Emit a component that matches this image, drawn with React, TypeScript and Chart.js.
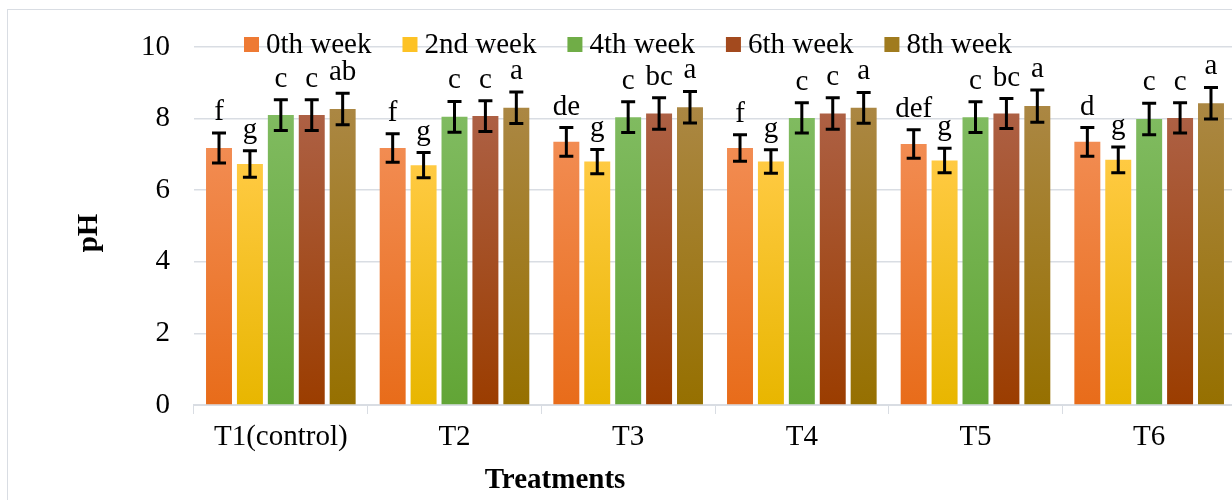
import React, { useEffect, useRef } from "react";
import { Chart, registerables } from "chart.js";
Chart.register(...registerables);

const categories = ["T1(control)", "T2", "T3", "T4", "T5", "T6"];
const seriesNames = ["0th week", "2nd week", "4th week", "6th week", "8th week"];
const week0 = [7.18, 7.18, 7.35, 7.18, 7.29, 7.35];
const week2 = [6.73, 6.7, 6.8, 6.8, 6.83, 6.85];
const week4 = [8.1, 8.05, 8.04, 8.02, 8.04, 7.99];
const week6 = [8.1, 8.07, 8.14, 8.14, 8.14, 8.02];
const week8 = [8.27, 8.3, 8.32, 8.3, 8.35, 8.43];
const err0 = [0.42, 0.4, 0.4, 0.37, 0.4, 0.4];
const err2 = [0.37, 0.35, 0.34, 0.33, 0.34, 0.36];
const err4 = [0.43, 0.43, 0.43, 0.42, 0.43, 0.44];
const err6 = [0.43, 0.43, 0.44, 0.44, 0.42, 0.42];
const err8 = [0.44, 0.44, 0.44, 0.43, 0.45, 0.44];
const letters0 = ["f", "f", "de", "f", "def", "d"];
const letters2 = ["g", "g", "g", "g", "g", "g"];
const letters4 = ["c", "c", "c", "c", "c", "c"];
const letters6 = ["c", "c", "bc", "c", "bc", "c"];
const letters8 = ["ab", "a", "a", "a", "a", "a"];
const yMin = 0;
const yMax = 10;
const yStep = 2;
const yTitle = "pH";
const xTitle = "Treatments";

const values = [week0, week2, week4, week6, week8];
const errors = [err0, err2, err4, err6, err8];
const letters = [letters0, letters2, letters4, letters6, letters8];
const topColors = ["#F28C52", "#FFCA42", "#80BB60", "#AD6044", "#AB8743"];
const bottomColors = ["#E86C1A", "#E8B600", "#62A536", "#9B3D00", "#967000"];
const legendColors = ["#EE7A34", "#FDC225", "#70AD47", "#A34A1E", "#A07B1E"];

const FONT = "'Liberation Serif', 'Times New Roman', serif";
const FS = 29;

const overlayPlugin = {
  id: "overlay",
  afterDatasetsDraw(chart: any) {
    const ctx = chart.ctx;
    const y = chart.scales.y;
    ctx.save();
    values.forEach((series, di) => {
      const meta = chart.getDatasetMeta(di);
      series.forEach((v, i) => {
        const el = meta.data[i];
        const x = el.x;
        const e = errors[di][i];
        const yt = y.getPixelForValue(v + e);
        const yb = y.getPixelForValue(v - e);
        ctx.strokeStyle = "#000";
        ctx.lineWidth = 3;
        ctx.lineCap = "butt";
        ctx.beginPath();
        ctx.moveTo(x, yt);
        ctx.lineTo(x, yb);
        ctx.moveTo(x - 7, yt);
        ctx.lineTo(x + 7, yt);
        ctx.moveTo(x - 7, yb);
        ctx.lineTo(x + 7, yb);
        ctx.stroke();
        ctx.fillStyle = "#000";
        ctx.font = `${FS}px ${FONT}`;
        ctx.textAlign = "center";
        ctx.textBaseline = "alphabetic";
        ctx.fillText(letters[di][i], x, yt - 13);
      });
    });
    ctx.restore();
  },
  afterDraw(chart: any) {
    const ctx = chart.ctx;
    ctx.save();
    // legend
    ctx.font = `${FS}px ${FONT}`;
    ctx.textBaseline = "alphabetic";
    ctx.textAlign = "left";
    let lx = 244;
    seriesNames.forEach((name, i) => {
      ctx.fillStyle = legendColors[i];
      ctx.fillRect(lx, 37, 15, 15);
      ctx.fillStyle = "#000";
      ctx.fillText(name, lx + 22, 53);
      lx += 22 + ctx.measureText(name).width + 31;
    });
    // axis titles
    ctx.font = `bold ${FS}px ${FONT}`;
    ctx.textAlign = "center";
    ctx.fillText(xTitle, 555, 488);
    ctx.translate(97, 233);
    ctx.rotate(-Math.PI / 2);
    ctx.fillText(yTitle, 0, 0);
    ctx.restore();
  },
};

export default function App() {
  const ref = useRef<HTMLCanvasElement>(null);
  useEffect(() => {
    if (!ref.current) return;
    const chart = new Chart(ref.current, {
      type: "bar",
      data: {
        labels: categories,
        datasets: values.map((series, di) => ({
          label: seriesNames[di],
          data: series,
          borderWidth: 0,
          categoryPercentage: 0.89,
          barPercentage: 0.84,
          backgroundColor: (c: any) => {
            const ch = c.chart;
            if (!ch.chartArea || c.type !== "data" || !ch.scales.y) return bottomColors[di];
            const v = c.raw as number;
            const yt = ch.scales.y.getPixelForValue(v);
            const yb = ch.scales.y.getPixelForValue(0);
            const g = ch.ctx.createLinearGradient(0, yt, 0, yb);
            g.addColorStop(0, topColors[di]);
            g.addColorStop(1, bottomColors[di]);
            return g;
          },
        })),
      },
      options: {
        responsive: false,
        animation: false,
        devicePixelRatio: 1,
        layout: { padding: { top: 47, right: 10, left: 0, bottom: 0 } },
        plugins: { legend: { display: false }, tooltip: { enabled: false }, title: { display: false } },
        scales: {
          x: {
            grid: { display: true, drawOnChartArea: false, drawTicks: true, tickLength: 9, color: "#D9DDE3", offset: true },
            border: { display: true, color: "#D9DDE3", width: 2 },
            ticks: { color: "#000", font: { family: FONT, size: FS }, padding: 6, maxRotation: 0 },
            afterFit: (s: any) => { s.height = 95; },
          },
          y: {
            min: yMin,
            max: yMax,
            ticks: { stepSize: yStep, color: "#000", font: { family: FONT, size: FS }, padding: 24 },
            grid: { color: "#D9DDE3", lineWidth: 1.5, drawTicks: false },
            border: { display: false },
            afterFit: (s: any) => { s.width = 194; },
          },
        },
      },
      plugins: [overlayPlugin],
    });
    return () => chart.destroy();
  }, []);
  return (
    <div style={{ position: "fixed", left: 0, top: 0, width: 1232, height: 500, overflow: "hidden", background: "#fff" }}>
      <div style={{ position: "absolute", left: 7, top: 9, width: 1300, height: 600, border: "1px solid #D9DDE3", boxSizing: "border-box" }} />
      <canvas ref={ref} width={1246} height={500} style={{ position: "absolute", left: 0, top: 0, width: 1246, height: 500 }} />
    </div>
  );
}
